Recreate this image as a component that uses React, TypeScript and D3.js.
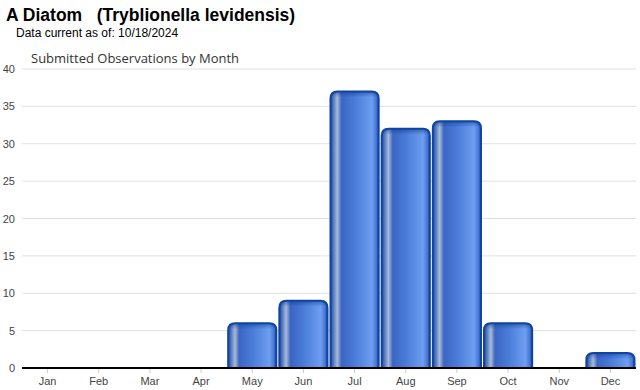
import React from 'react';
import * as d3 from 'd3';

const W = 640;
const H = 390;
const months = ['Jan', 'Feb', 'Mar', 'Apr', 'May', 'Jun', 'Jul', 'Aug', 'Sep', 'Oct', 'Nov', 'Dec'];
const counts = [0, 0, 0, 0, 6, 9, 37, 32, 33, 6, 0, 2];
const yTicks = [0, 5, 10, 15, 20, 25, 30, 35, 40];

const left = 22;
const right = 636;
const top = 69;
const bottom = 368;

function barPath(x: number, y: number, w: number, h: number, r: number) {
  const rr = Math.min(r, h, w / 2);
  return `M${x},${y + h}V${y + rr}Q${x},${y} ${x + rr},${y}H${x + w - rr}Q${x + w},${y} ${x + w},${y + rr}V${y + h}`;
}

export default function App() {
  const x = d3.scaleBand<string>().domain(months).range([left, right]).paddingInner(0.02).paddingOuter(0.01);
  const y = d3.scaleLinear().domain([0, 40]).range([bottom, top]);

  return (
    <svg width={W} height={H} style={{ position: 'absolute', left: 0, top: 0, background: '#fff' }}>
      <defs>
        <linearGradient id="barGrad" x1="0" x2="1" y1="0" y2="0">
          <stop offset="0" stopColor="#1a4aa8" />
          <stop offset="0.07" stopColor="#5f80c0" />
          <stop offset="0.14" stopColor="#a9bad9" />
          <stop offset="0.23" stopColor="#3a66c2" />
          <stop offset="0.5" stopColor="#4a7bd8" />
          <stop offset="0.86" stopColor="#6d9ef0" />
          <stop offset="0.95" stopColor="#4676d4" />
          <stop offset="1" stopColor="#1a4aa8" />
        </linearGradient>
        <linearGradient id="topShade" x1="0" x2="0" y1="0" y2="1">
          <stop offset="0" stopColor="#0a3a96" stopOpacity="0.55" />
          <stop offset="1" stopColor="#0a3a96" stopOpacity="0" />
        </linearGradient>
      </defs>
      <text x={6} y={21} fontFamily="Liberation Sans, Arial, sans-serif" fontWeight="bold" fontSize={17.5} fill="#000" style={{ whiteSpace: 'pre' }}>
        {'A Diatom   (Tryblionella levidensis)'}
      </text>
      <text x={16} y={37} fontFamily="Liberation Sans, Arial, sans-serif" fontSize={12} fill="#000">
        Data current as of: 10/18/2024
      </text>
      <text x={31} y={63} fontFamily="Open Sans, sans-serif" fontSize={13} fill="#333">
        Submitted Observations by Month
      </text>
      {yTicks.map(t => (
        <g key={t}>
          {t > 0 && <line x1={left} x2={right} y1={y(t)} y2={y(t)} stroke="#e0e0e0" strokeWidth={1} />}
          <text x={15} y={y(t) + 4} textAnchor="end" fontFamily="Liberation Sans, Arial, sans-serif" fontSize={11} fill="#444">
            {t}
          </text>
        </g>
      ))}
      {months.map((m, i) => {
        const cx = (x(m) ?? 0) + x.bandwidth() / 2;
        const v = counts[i];
        const bw = x.bandwidth() - 2;
        const bx = (x(m) ?? 0) + 1;
        const by = y(v);
        return (
          <g key={m}>
            <line x1={cx} x2={cx} y1={bottom} y2={bottom + 5} stroke="#ccc" />
            {v > 0 && (
              <g>
                <path d={barPath(bx, by, bw, bottom - by, 7)} fill="url(#barGrad)" />
                <path d={barPath(bx, by, bw, Math.min(6, bottom - by), 7)} fill="url(#topShade)" />
                <path d={barPath(bx, by, bw, bottom - by, 7)} fill="none" stroke="#0f44a0" strokeWidth={2} />
              </g>
            )}
            <text x={cx} y={385} textAnchor="middle" fontFamily="Liberation Sans, Arial, sans-serif" fontSize={11} fill="#444">
              {m}
            </text>
          </g>
        );
      })}
      <line x1={left} x2={right} y1={bottom} y2={bottom} stroke="#000" strokeWidth={2} />
    </svg>
  );
}
